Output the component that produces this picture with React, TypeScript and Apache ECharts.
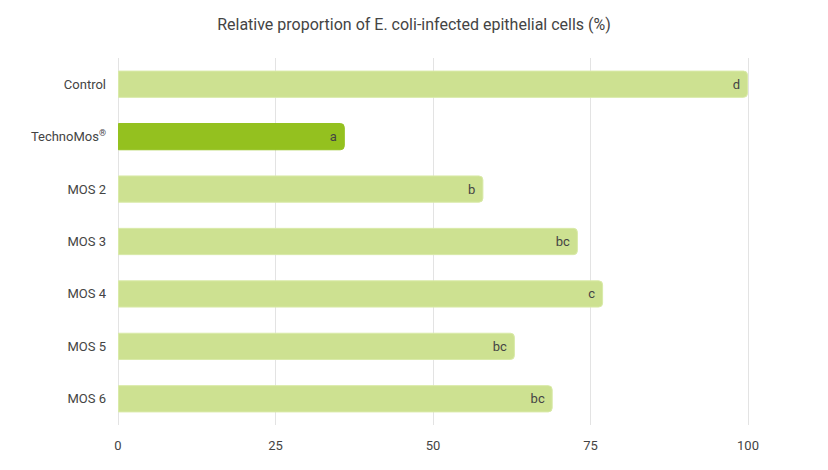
import { useEffect, useRef } from 'react';
import * as echarts from 'echarts';

const categories = ['Control', 'TechnoMos®', 'MOS 2', 'MOS 3', 'MOS 4', 'MOS 5', 'MOS 6'];
const values = [100, 36, 58, 73, 77, 63, 69];
const letters = ['d', 'a', 'b', 'bc', 'c', 'bc', 'bc'];
const highlighted = 'TechnoMos®';
const xTicks = [0, 25, 50, 75, 100];

const textColor = '#444';
const lightGreen = '#cde191';
const darkGreen = '#94c11f';

export default function App() {
  const chartRef = useRef<HTMLDivElement>(null);

  useEffect(() => {
    if (!chartRef.current) return;
    const chart = echarts.init(chartRef.current, undefined, { renderer: 'svg' });

    // the page keeps its 8px body margin, so positions are shifted by 8
    const option: echarts.EChartsOption = {
      animation: false,
      textStyle: { fontFamily: 'Roboto' },
      title: {
        text: 'Relative proportion of E. coli-infected epithelial cells (%)',
        left: 'center',
        top: 3,
        textStyle: { fontSize: 16, fontWeight: 'normal', color: textColor, fontFamily: 'Roboto' }
      },
      grid: { left: 110, right: 72, top: 50, bottom: 37, containLabel: false },
      xAxis: {
        type: 'value',
        min: xTicks[0],
        max: xTicks[xTicks.length - 1],
        interval: 25,
        axisLine: { show: false },
        axisTick: { show: false },
        axisLabel: { color: textColor, fontSize: 13, margin: 14 },
        splitLine: { lineStyle: { color: '#e3e3e3', width: 1 } }
      },
      yAxis: {
        type: 'category',
        inverse: true,
        data: categories,
        axisLine: { show: false },
        axisTick: { show: false },
        axisLabel: {
          color: textColor,
          fontSize: 13,
          margin: 12,
          formatter: (v: string) => (v.endsWith('®') ? `${v.slice(0, -1)}{sup|®}` : v),
          rich: {
            sup: { fontSize: 9, color: textColor, verticalAlign: 'top', padding: [0, 0, 8, 0] }
          }
        }
      },
      series: [
        {
          type: 'bar',
          barWidth: '52%',
          data: values.map((v, i) => ({
            value: v,
            itemStyle: {
              color: categories[i] === highlighted ? darkGreen : lightGreen,
              borderColor: categories[i] === highlighted ? darkGreen : '#d9eaa8',
              borderWidth: 1,
              borderRadius: [0, 4, 4, 0]
            }
          })),
          label: {
            show: true,
            position: 'insideRight',
            distance: 8,
            color: textColor,
            fontSize: 13,
            formatter: (p: any) => letters[p.dataIndex]
          }
        }
      ]
    };

    chart.setOption(option);
    return () => chart.dispose();
  }, []);

  return <div ref={chartRef} style={{ width: 812, height: 454 }} />;
}
